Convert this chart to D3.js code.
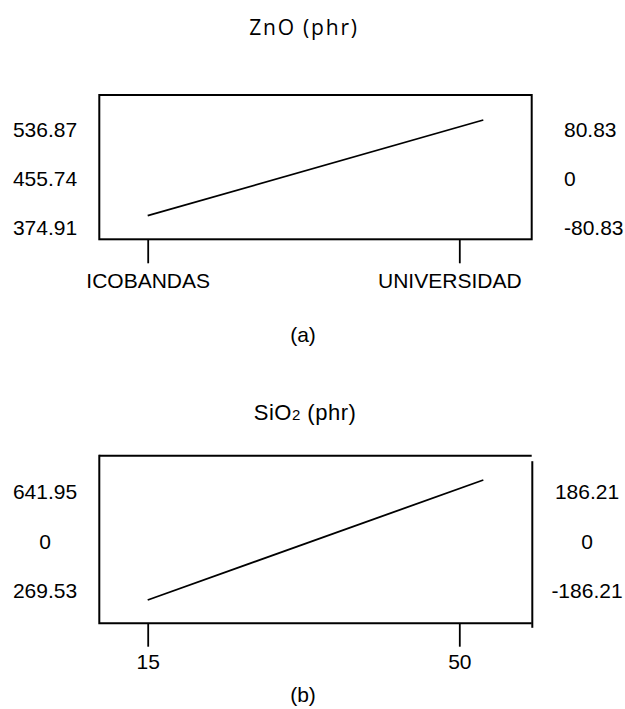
<!DOCTYPE html>
<html>
<head>
<meta charset="utf-8">
<script src="https://cdn.jsdelivr.net/npm/d3@7"></script>
<style>
  html, body { margin: 0; padding: 0; background: #fff; }
  svg { display: block; }
  text { font-family: "Liberation Sans", Arial, sans-serif; fill: #000; }
</style>
</head>
<body>
<svg id="chart" width="625" height="709"></svg>
<script>
// ---------- data ----------
const zincCategories = ["ICOBANDAS", "UNIVERSIDAD"];
const zincCategoryPos = [0, 1];
const zincLineX = [0, 1.077];
const zincLineY = [395.1, 552.5];
const zincLeftTicks = [374.91, 455.74, 536.87];
const zincLeftLabels = ["374.91", "455.74", "536.87"];
const zincRightTicks = [-80.83, 0, 80.83];
const zincRightLabels = ["-80.83", "0", "80.83"];

const silicaXTicks = [15, 50];
const silicaXLabels = ["15", "50"];
const silicaLineX = [15, 52.7];
const silicaLineY = [234.5, 686.0];
const silicaLeftTicks = [269.53, 455.74, 641.95];
const silicaLeftLabels = ["269.53", "0", "641.95"];
const silicaRightTicks = [-186.21, 0, 186.21];
const silicaRightLabels = ["-186.21", "0", "186.21"];

const grandMean = 455.74;

// ---------- drawing ----------
const svg = d3.select("#chart");
const FS = 21;
const L = 99.3, R = 531.7;

function panel(opts) {
  const g = svg.append("g");
  const x = d3.scaleLinear().domain(opts.xDomain).range([147.7, 459.3]);
  const y = d3.scaleLinear().domain(opts.yDomain).range(opts.yRange);
  const yR = y.copy().domain(y.domain().map(d => d - grandMean));

  // frame
  if (opts.openFrame) {
    g.append("path").attr("d", `M${L},${opts.top}H${R}`).attr("stroke", "#000").attr("stroke-width", 2).attr("fill", "none");
    g.append("path").attr("d", `M${L},${opts.top - 1}V${opts.bottom}H${R}`).attr("stroke", "#000").attr("stroke-width", 2).attr("fill", "none");
    g.append("path").attr("d", `M${R + 0.6},${opts.top + 5.5}V${opts.bottom + 4.5}`).attr("stroke", "#000").attr("stroke-width", 2).attr("fill", "none");
  } else {
    g.append("rect").attr("x", L).attr("y", opts.top).attr("width", R - L).attr("height", opts.bottom - opts.top)
      .attr("fill", "none").attr("stroke", "#000").attr("stroke-width", 2);
  }

  // x axis ticks (bottom)
  const xAxis = d3.axisBottom(x).tickValues(opts.xTicks).tickSize(opts.tickLen).tickPadding(opts.labelPad)
    .tickFormat((d, i) => opts.xLabels[i]);
  const ax = g.append("g").attr("transform", `translate(0,${opts.bottom})`).call(xAxis);
  ax.select(".domain").remove();
  ax.selectAll("line").attr("stroke", "#000").attr("stroke-width", 1.8);
  ax.selectAll("text").style("font-family", '"Liberation Sans", Arial, sans-serif').attr("font-size", FS).attr("fill", "#000")
    .attr("dx", (d, i) => (i === opts.xTicks.length - 1 ? opts.lastLabelShift : 0));

  // left labels
  g.selectAll(".ll").data(opts.leftTicks).enter().append("text")
    .attr("x", 45).attr("y", d => y(d)).attr("dy", "0.35em").attr("text-anchor", "middle")
    .attr("font-size", FS).text((d, i) => opts.leftLabels[i]);
  // right labels
  g.selectAll(".rl").data(opts.rightTicks).enter().append("text")
    .attr("x", opts.rightX).attr("y", d => yR(d)).attr("dy", "0.35em").attr("text-anchor", opts.rightAnchor)
    .attr("font-size", FS).text((d, i) => opts.rightLabels[i]);

  // effect line
  const pts = opts.lineX.map((v, i) => [v, opts.lineY[i]]);
  g.append("path").datum(pts)
    .attr("d", d3.line().x(d => x(d[0])).y(d => y(d[1])))
    .attr("fill", "none").attr("stroke", "#000").attr("stroke-width", 1.8);
  return g;
}

panel({
  xDomain: [0, 1], xTicks: zincCategoryPos, xLabels: zincCategories, lastLabelShift: -10,
  yDomain: [374.91, 536.87], yRange: [228, 129.5],
  top: 95, bottom: 239.3, tickLen: 24, labelPad: 10,
  leftTicks: zincLeftTicks, leftLabels: zincLeftLabels,
  rightTicks: zincRightTicks, rightLabels: zincRightLabels, rightX: 564, rightAnchor: "start",
  lineX: zincLineX, lineY: zincLineY, openFrame: false
});

panel({
  xDomain: [15, 50], xTicks: silicaXTicks, xLabels: silicaXLabels, lastLabelShift: 0,
  yDomain: [269.53, 641.95], yRange: [590.7, 491.7],
  top: 455.7, bottom: 623.3, tickLen: 23.4, labelPad: 7,
  leftTicks: silicaLeftTicks, leftLabels: silicaLeftLabels,
  rightTicks: silicaRightTicks, rightLabels: silicaRightLabels, rightX: 587, rightAnchor: "middle",
  lineX: silicaLineX, lineY: silicaLineY, openFrame: true
});

// titles
svg.append("text").attr("x", 304).attr("y", 35).attr("text-anchor", "middle")
  .style("font-family", '"Open Sans", sans-serif').attr("font-size", 21).attr("letter-spacing", 1.8)
  .text("ZnO (phr)");

const t2 = svg.append("text").attr("x", 305).attr("y", 419.5).attr("text-anchor", "middle")
  .attr("font-size", 22).attr("letter-spacing", 0.5);
t2.append("tspan").text("SiO");
t2.append("tspan").attr("font-size", 15).text("2");
t2.append("tspan").text(" (phr)");

svg.append("text").attr("x", 303).attr("y", 335).attr("dy", "0.35em").attr("text-anchor", "middle")
  .attr("font-size", FS).text("(a)");
svg.append("text").attr("x", 303).attr("y", 695).attr("dy", "0.35em").attr("text-anchor", "middle")
  .attr("font-size", FS).text("(b)");
</script>
</body>
</html>
